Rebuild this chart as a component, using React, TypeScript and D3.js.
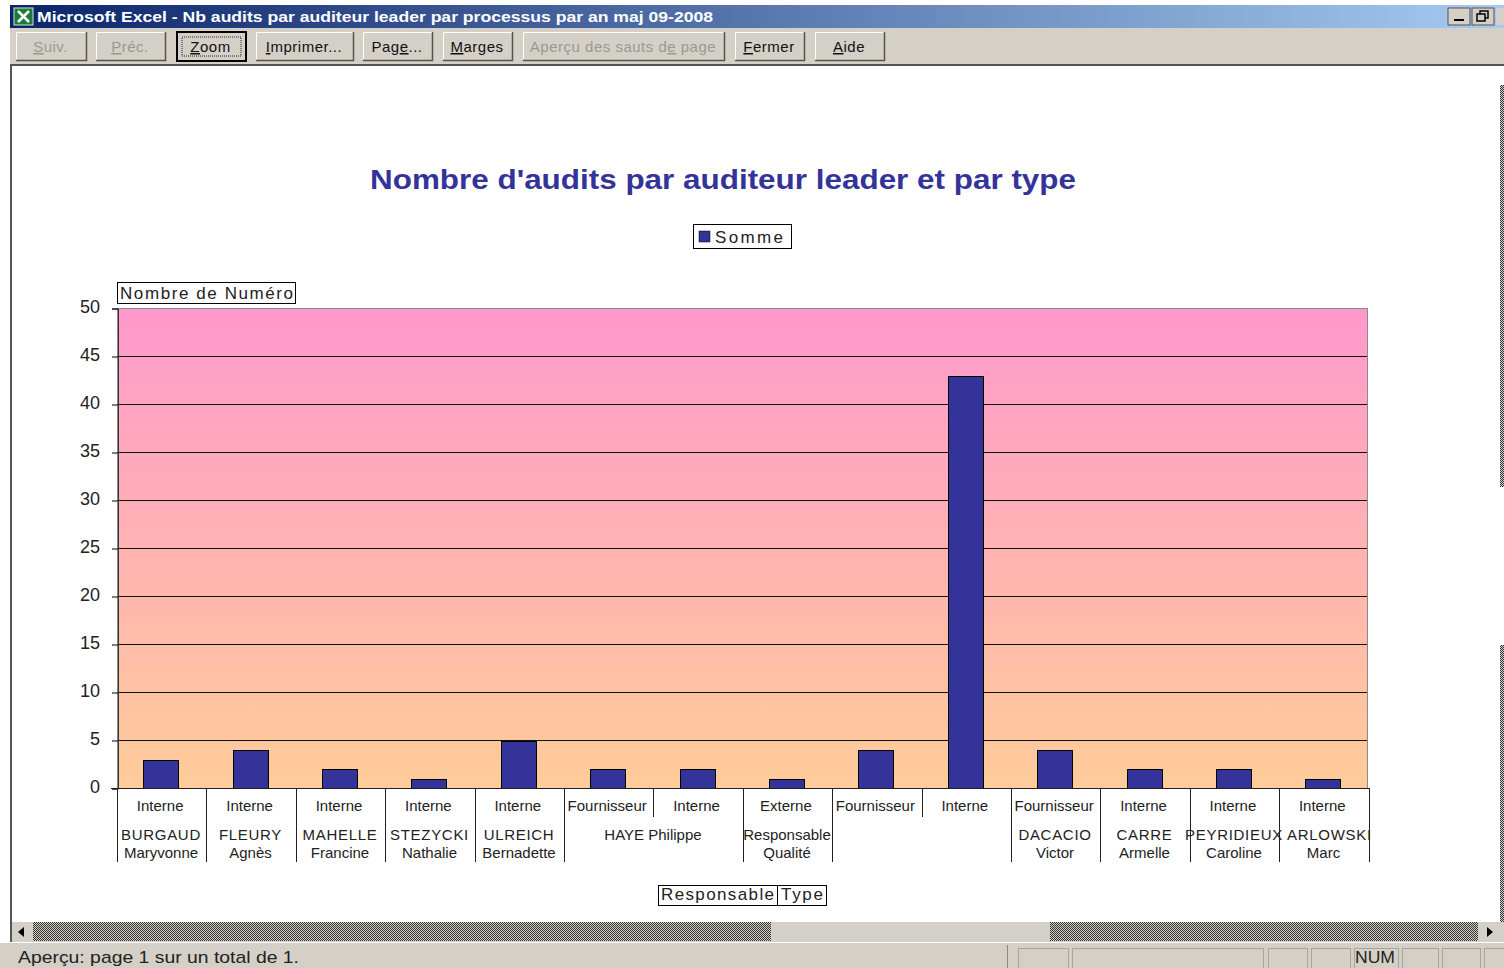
import React, { useEffect, useRef } from 'react';
import * as d3 from 'd3';

// Chart data
const audits = [3, 4, 2, 1, 5, 2, 2, 1, 4, 43, 4, 2, 2, 1];
const types = [
  'Interne', 'Interne', 'Interne', 'Interne', 'Interne', 'Fournisseur', 'Interne',
  'Externe', 'Fournisseur', 'Interne', 'Fournisseur', 'Interne', 'Interne', 'Interne',
];
const responsables = [
  ['BURGAUD', 'Maryvonne'], ['FLEURY', 'Agnès'], ['MAHELLE', 'Francine'], ['STEZYCKI', 'Nathalie'],
  ['ULREICH', 'Bernadette'], ['HAYE Philippe'], ['Responsable', 'Qualité'], [],
  ['DACACIO', 'Victor'], ['CARRE', 'Armelle'], ['PEYRIDIEUX', 'Caroline'], ['ARLOWSKI', 'Marc'],
];
const groupSizes = [1, 1, 1, 1, 1, 2, 1, 2, 1, 1, 1, 1];
const yTicks = d3.range(0, 51, 5);

const toolbarLabels = ['Suiv.', 'Préc.', 'Zoom', 'Imprimer...', 'Page...', 'Marges', 'Aperçu des sauts de page', 'Fermer', 'Aide'];
const toolbarKeys = [0, 0, 0, 0, 3, 0, 18, 0, 0];
const toolbarDisabled = [true, true, false, false, false, false, true, false, false];
const toolbarEdges = [[16, 87], [96, 166], [177, 246], [256, 354], [363, 433], [443, 513], [523, 725], [735, 805], [815, 885]];
const statusPanels = [[1018, 1068], [1072, 1263], [1268, 1307], [1311, 1350], [1354, 1398], [1402, 1438], [1442, 1480], [1484, 1504]];

const UI_FONT = '"Liberation Sans", Arial, sans-serif';
const CHART_FONT = '"Liberation Sans", Arial, sans-serif';

const Button = ({ label, hot, disabled, x0, x1, active }: any) => {
  const h = 29;
  const w = x1 - x0;
  const fg = disabled ? '#9a9892' : '#111';
  return (
    <g transform={`translate(${x0},32)`}>
      <rect width={w} height={h} fill="#d4d0c8" stroke={active ? '#000' : 'none'} strokeWidth={active ? 2 : 0} />
      {!active && <path d={`M0.5,${h}V0.5H${w}`} stroke="#fff" fill="none" />}
      {!active && <path d={`M${w - 0.5},0V${h - 0.5}H0`} stroke="#55534e" strokeWidth={1.5} fill="none" />}
      {active && <rect x={5} y={5} width={w - 10} height={h - 10} fill="none" stroke="#222" strokeDasharray="1 1" />}
      <text x={w / 2 - 1} y={20} textAnchor="middle" fontFamily={UI_FONT} fontSize={15} letterSpacing={0.5} fill={fg}>
        {label.slice(0, hot)}
        <tspan textDecoration="underline">{label[hot]}</tspan>
        {label.slice(hot + 1)}
      </text>
    </g>
  );
};

const App = () => {
  const axisRef = useRef<SVGGElement>(null);

  // the category axis runs a little past the plot on the right, as in the original
  const x = d3.scaleBand<number>().domain(d3.range(audits.length)).range([117.5, 1369]);
  const y = d3.scaleLinear().domain([0, 50]).range([788.5, 308.5]);
  const step = x.step();
  const barWidth = 35;

  useEffect(() => {
    document.body.style.margin = '0';
    const g = d3.select(axisRef.current);
    g.selectAll('*').remove();
    const axis = d3.axisLeft(y).tickValues(yTicks).tickSize(6).tickPadding(12);
    g.attr('transform', 'translate(118,0)').call(axis as any);
    g.select('.domain').attr('stroke', '#333');
    g.selectAll('.tick line').attr('stroke', '#000');
    g.selectAll('.tick text')
      .attr('font-family', CHART_FONT)
      .attr('font-size', 18)
      .attr('dy', '0.2em')
      .attr('fill', '#222');
  }, []);

  // start index of each responsable group
  let cursor = 0;
  const groups = groupSizes.map((n, i) => {
    const g = { start: cursor, end: cursor + n, lines: responsables[i] };
    cursor += n;
    return g;
  });
  const chartBottom = 862;
  const edge = (i: number) => Math.round(117 + step * i) + 0.5;

  return (
    <svg width={1504} height={968} style={{ display: 'block', background: '#fff' }}>
      <defs>
        <linearGradient id="plotBg" x1="0" y1="0" x2="0" y2="1">
          <stop offset="0" stopColor="#ff99cc" />
          <stop offset="1" stopColor="#ffcc99" />
        </linearGradient>
        <linearGradient id="titleBg" x1="0" y1="0" x2="1" y2="0">
          <stop offset="0" stopColor="#0a246a" />
          <stop offset="1" stopColor="#a6caf0" />
        </linearGradient>
        <pattern id="hatch" width="2" height="2" patternUnits="userSpaceOnUse">
          <rect width="2" height="2" fill="#d4d0c8" />
          <rect width="1" height="1" fill="#333" />
          <rect x="1" y="1" width="1" height="1" fill="#333" />
        </pattern>
      </defs>

      {/* Excel window chrome */}
      <rect x={10} y={5} width={1494} height={23} fill="url(#titleBg)" />
      <rect x={14} y={8} width={19} height={17} fill="#1d7a3a" stroke="#cfe8d0" />
      <path d="M18,11L29,22M29,11L18,22" stroke="#fff" strokeWidth={2.5} />
      <text x={37} y={22} fontFamily={UI_FONT} fontWeight="bold" fontSize={15} fill="#fff" textLength={676} lengthAdjust="spacingAndGlyphs">
        Microsoft Excel - Nb audits par auditeur leader par processus par an maj 09-2008
      </text>
      <rect x={1448} y={8} width={22} height={17} fill="#d4d0c8" stroke="#55534e" />
      <rect x={1454} y={19} width={10} height={2} fill="#000" />
      <rect x={1472} y={8} width={22} height={17} fill="#d4d0c8" stroke="#55534e" />
      <rect x={1480} y={11} width={8} height={7} fill="none" stroke="#000" strokeWidth={1.5} />
      <rect x={1477} y={14} width={8} height={7} fill="#d4d0c8" stroke="#000" strokeWidth={1.5} />
      <rect x={1496} y={8} width={8} height={17} fill="#d4d0c8" />
      <rect x={10} y={28} width={1494} height={37} fill="#d4d0c8" />
      <rect x={10} y={64} width={1494} height={2} fill="#55534e" />
      {toolbarLabels.map((label, i) => (
        <Button key={label} label={label} hot={toolbarKeys[i]} disabled={toolbarDisabled[i]}
          x0={toolbarEdges[i][0]} x1={toolbarEdges[i][1]} active={label === 'Zoom'} />
      ))}
      <rect x={10} y={66} width={2} height={877} fill="#555" />
      <rect x={1500} y={85} width={4} height={402} fill="url(#hatch)" />
      <rect x={1500} y={645} width={4} height={277} fill="url(#hatch)" />

      {/* Title and legend */}
      <text x={723} y={189} textAnchor="middle" fontFamily={CHART_FONT} fontWeight="bold" fontSize={28} fill="#333399" textLength={706} lengthAdjust="spacingAndGlyphs">
        Nombre d'audits par auditeur leader et par type
      </text>
      <rect x={693.5} y={224.5} width={98} height={24} fill="#fff" stroke="#000" />
      <rect x={699} y={231} width={11} height={11} fill="#333399" stroke="#000" strokeWidth={0.5} />
      <text x={715} y={243} fontFamily={CHART_FONT} fontSize={17} fill="#222" textLength={68} lengthAdjust="spacing">Somme</text>

      {/* Plot */}
      <rect x={117.5} y={308.5} width={1250} height={480} fill="url(#plotBg)" stroke="#8a8a8a" />
      {yTicks.filter(t => t > 0 && t < 50).map(t => (
        <line key={t} x1={118} x2={1367} y1={y(t)} y2={y(t)} stroke="#111" />
      ))}
      {audits.map((v, i) => {
        const cx = Math.round(x(i)! + step / 2 - 1);
        return (
          <rect key={i} x={cx - barWidth / 2} y={Math.round(y(v)) + 0.5} width={barWidth} height={788.5 - Math.round(y(v)) - 0.5}
            fill="#333399" stroke="#000" strokeWidth={1} />
        );
      })}
      <g ref={axisRef} />
      <rect x={117.5} y={282.5} width={178} height={21} fill="#fff" stroke="#000" />
      <text x={120} y={299} fontFamily={CHART_FONT} fontSize={17} fill="#222" textLength={173} lengthAdjust="spacing">Nombre de Numéro</text>

      {/* Two level category axis */}
      <line x1={111} x2={1369} y1={788.5} y2={788.5} stroke="#222" />
      {types.map((t, i) => (
        <text key={i} x={x(i)! + step / 2 - 2} y={811} textAnchor="middle" fontFamily={CHART_FONT} fontSize={15} fill="#222">{t}</text>
      ))}
      {d3.range(1, audits.length + 1).map(i => (
        <line key={i} x1={edge(i)} x2={edge(i)} y1={788} y2={i === audits.length || groups.some(g => g.start === i) ? chartBottom : 817} stroke="#222" />
      ))}
      <line x1={117.5} x2={117.5} y1={788} y2={chartBottom} stroke="#222" />
      {groups.map((g, i) => {
        const last = i === groups.length - 1;
        const cx = (edge(g.start) + edge(g.end)) / 2 - 1;
        return g.lines.map((s, j) => (
          // the last name is pushed right by its neighbour in the original
          <text key={`${i}-${j}`} x={last && j === 0 ? cx + 6 : cx} y={839.5 + j * 18.5} textAnchor="middle"
            fontFamily={CHART_FONT} fontSize={15} fill="#222" letterSpacing={s === s.toUpperCase() ? 0.7 : 0}>{s}</text>
        ));
      })}

      {/* Pivot field buttons */}
      <rect x={658.5} y={885.5} width={119} height={20} fill="#fff" stroke="#000" />
      <text x={661} y={900} fontFamily={CHART_FONT} fontSize={17} fill="#222" textLength={113} lengthAdjust="spacing">Responsable</text>
      <rect x={777.5} y={885.5} width={49} height={20} fill="#fff" stroke="#000" />
      <text x={781} y={900} fontFamily={CHART_FONT} fontSize={17} fill="#222" textLength={42} lengthAdjust="spacing">Type</text>

      {/* Scrollbar and status bar */}
      <rect x={12} y={922} width={1492} height={20} fill="#d4d0c8" />
      <rect x={33} y={922} width={738} height={19} fill="url(#hatch)" />
      <rect x={1050} y={922} width={428} height={19} fill="url(#hatch)" />
      <path d="M24,927v10l-6,-5z" fill="#000" />
      <path d="M1487,927v10l6,-5z" fill="#000" />
      <rect x={0} y={943} width={1504} height={25} fill="#d4d0c8" />
      <line x1={0} x2={1504} y1={942.5} y2={942.5} stroke="#fff" />
      <text x={18} y={963} fontFamily={UI_FONT} fontSize={17} fill="#222" textLength={281} lengthAdjust="spacingAndGlyphs">Aperçu: page 1 sur un total de 1.</text>
      <line x1={1007.5} x2={1007.5} y1={945} y2={968} stroke="#8a8880" />
      {statusPanels.map(([a, b]) => (
        <rect key={a} x={a + 0.5} y={948.5} width={b - a} height={20} fill="none" stroke="#a8a59d" />
      ))}
      <text x={1355} y={963} fontFamily={UI_FONT} fontSize={17} fill="#222" textLength={40} lengthAdjust="spacingAndGlyphs">NUM</text>
    </svg>
  );
};

export default App;
